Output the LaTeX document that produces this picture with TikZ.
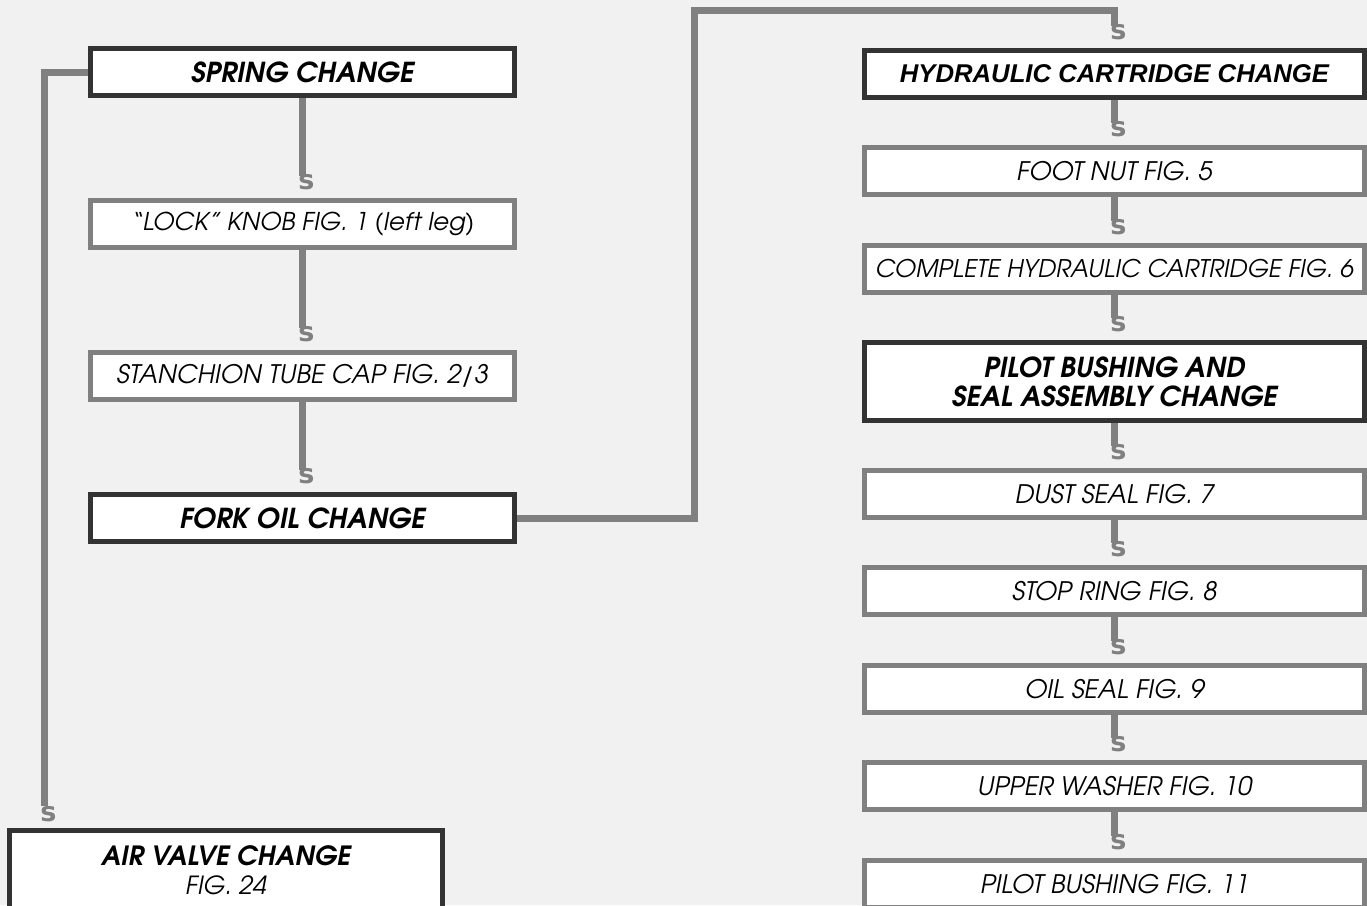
\documentclass[tikz,border=0pt]{standalone}
\usepackage{fontspec}
\newfontfamily\arialfont{Liberation Sans}
\newfontfamily\sfont{DejaVu Sans}
\newfontfamily\advfont{texgyreadventor}[Extension=.otf, UprightFont=*-regular, ItalicFont=*-italic, BoldFont=*-bold, BoldItalicFont=*-bolditalic]
\definecolor{bg}{HTML}{F1F1F1}
\definecolor{lgray}{HTML}{808080}
\definecolor{dgray}{HTML}{333333}
\tikzset{
  box/.style={draw=lgray, line width=5pt, fill=white, minimum height=47pt, inner sep=0pt, align=center,
    font=\advfont\itshape\fontsize{25.5}{29}\selectfont},
  bbox/.style={box, draw=dgray, font=\advfont\bfseries\itshape\fontsize{27.5}{29}\selectfont},
  lw/.style={minimum width=424pt},
  rw/.style={minimum width=500pt},
  conn/.style={draw=lgray, line width=7pt},
  sarr/.style={text=lgray, font=\sfont\bfseries\fontsize{27}{27}\selectfont, inner sep=0pt},
}
\begin{document}
\begin{tikzpicture}[x=1pt,y=-1pt]
\fill[bg] (0,0) rectangle (1367,905);
\useasboundingbox (0,0) rectangle (1367,905);
% left column
\node[bbox,lw] (spring) at (302.5,72) {SPRING CHANGE};
\node[box,lw,font=\advfont\itshape\fontsize{24.5}{29}\selectfont] (lock) at (302.5,224) {“LOCK” KNOB FIG. 1 (left leg)};
\node[box,lw] (stan) at (302.5,376) {STANCHION TUBE CAP FIG. 2/3};
\node[bbox,lw] (fork) at (302.5,518) {FORK OIL CHANGE};
\node[bbox,minimum width=433pt,minimum height=79pt,font=\advfont\bfseries\itshape\fontsize{26.5}{29}\selectfont] (air) at (226,870) {AIR VALVE CHANGE\\{\mdseries\fontsize{25}{29}\selectfont FIG. 24}};
% right column
\node[bbox,rw,font=\arialfont\bfseries\itshape\fontsize{25.7}{29}\selectfont] (hyd) at (1114.5,74) {HYDRAULIC CARTRIDGE CHANGE};
\node[box,rw] (foot) at (1114.5,171) {FOOT NUT FIG. 5};
\node[box,rw,font=\advfont\itshape\fontsize{24.3}{29}\selectfont] (comp) at (1114.5,269) {COMPLETE HYDRAULIC CARTRIDGE FIG. 6};
\node[bbox,rw,minimum height=78pt] (pilot) at (1114.5,381.5) {PILOT BUSHING AND\\SEAL ASSEMBLY CHANGE};
\node[box,rw] (dust) at (1114.5,494) {DUST SEAL FIG. 7};
\node[box,rw] (stop) at (1114.5,591) {STOP RING FIG. 8};
\node[box,rw] (oil) at (1114.5,689) {OIL SEAL FIG. 9};
\node[box,rw] (upper) at (1114.5,786) {UPPER WASHER FIG. 10};
\node[box,rw] (pb) at (1114.5,884) {PILOT BUSHING FIG. 11};
% connectors
\foreach \a/\b in {spring/lock, lock/stan, stan/fork, hyd/foot, foot/comp, comp/pilot, pilot/dust, dust/stop, stop/oil, oil/upper, upper/pb}{
  \draw[conn] (\a.south) -- ([yshift=22pt]\b.north);
  \node[sarr] at ([xshift=4pt,yshift=16pt]\b.north) {s};
}
\coordinate (airin) at (44.5,806);
\draw[conn] (spring.west) -| (airin);
\node[sarr] at (48.5,814) {s};
\draw[conn] (fork.east) -| (694,10.5) -| ([yshift=22pt]hyd.north);
\node[sarr] at ([xshift=4pt,yshift=16pt]hyd.north) {s};
\end{tikzpicture}
\end{document}
